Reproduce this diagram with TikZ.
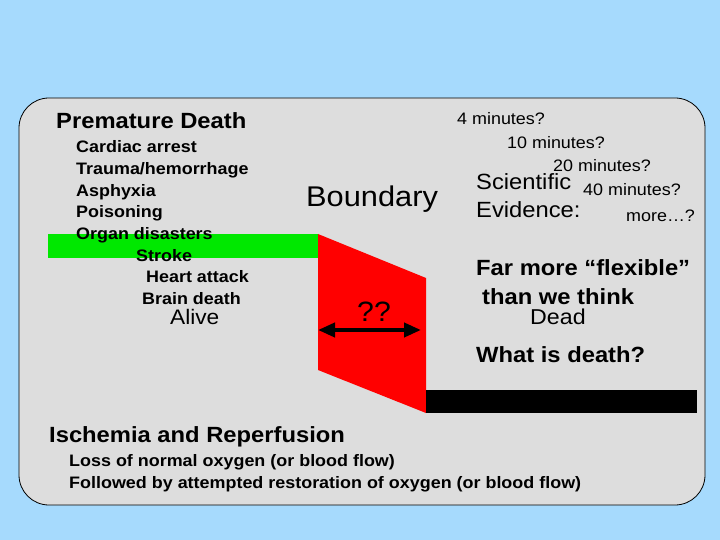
\documentclass[tikz,border=0pt]{standalone}
\usepackage{fontspec}
\setmainfont{Liberation Sans}[FakeStretch=1.08]
\usetikzlibrary{arrows.meta}
\definecolor{bgblue}{RGB}{166,218,253}
\definecolor{boxgray}{RGB}{221,221,221}
\definecolor{bargreen}{RGB}{0,232,0}
\tikzset{
  txt/.style={anchor=west, inner sep=0pt, text height=0.72em, text depth=0pt, yshift={-0.22*#1*1pt}, font=\fontsize{#1}{#1}\selectfont},
  btxt/.style={txt=#1, font=\fontsize{#1}{#1}\selectfont\bfseries},
}
\begin{document}
\begin{tikzpicture}[x=1pt,y=-1pt]
\useasboundingbox (0,0) rectangle (720,540);
\fill[bgblue] (0,0) rectangle (720,540);
\draw[fill=boxgray, line width=0.8pt, rounded corners=30pt] (19,98) rectangle (705,505);
% bars
\fill[bargreen] (48,234) rectangle (318,258);
\fill[red] (318,234) -- (426,278) -- (426,413) -- (318,370) -- cycle;
\fill[black] (426,390) rectangle (697,413);
% left texts
\node[btxt=22] (pd) at (56,120) {Premature Death};
\node[btxt=16.6] (ca) at (76,145) {Cardiac arrest};
\node[btxt=16.6] (tr) at (76,167) {Trauma/hemorrhage};
\node[btxt=16.6] (as) at (76,189) {Asphyxia};
\node[btxt=16.6] (po) at (76,210) {Poisoning};
\node[btxt=16.6] (od) at (76,232) {Organ disasters};
\node[btxt=16.6] (st) at (136,254) {Stroke};
\node[btxt=16.6] (ha) at (146,275) {Heart attack};
\node[btxt=16.6] (bd) at (142,297) {Brain death};
\node[txt=21] (al) at (170,316) {Alive};
% middle
\node[txt=28.5] (bo) at (306,197) {Boundary};
\node[txt=28] (qq) at (357,312) {??};
\coordinate (aL) at (318,330);
\coordinate (aR) at (421,330);
\draw[line width=4pt, {Triangle[length=17pt,width=14pt]}-{Triangle[length=17pt,width=14pt]}] (aL) -- (aR);
% right
\node[txt=16.6] (m4) at (457,117) {4 minutes?};
\node[txt=16.6] (m10) at (507,141) {10 minutes?};
\node[txt=16.6] (m20) at (553,164) {20 minutes?};
\node[txt=16.6] (m40) at (583,188) {40 minutes?};
\node[txt=16.6] (mo) at (626,214) {more…?};
\node[txt=22] (sc) at (476,181) {Scientific};
\node[txt=22] (ev) at (476,209) {Evidence:};
\node[btxt=22] (fm) at (476,267) {Far more “flexible”};
\node[btxt=22] (tw) at (482,296) {than we think};
\node[txt=21.5] (de) at (530,316) {Dead};
\node[btxt=22] (wd) at (476,354) {What is death?};
% bottom
\node[btxt=22] (ir) at (49,434) {Ischemia and Reperfusion};
\node[btxt=16.6] (lo) at (69,459) {Loss of normal oxygen (or blood flow)};
\node[btxt=16.6] (fo) at (69,481) {Followed by attempted restoration of oxygen (or blood flow)};
\end{tikzpicture}
\end{document}
